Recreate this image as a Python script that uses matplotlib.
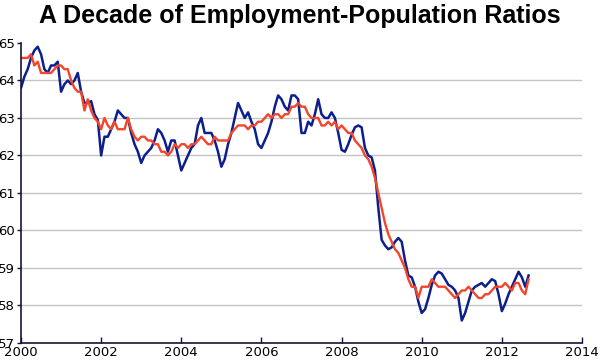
import numpy as np
import matplotlib
matplotlib.use("Agg")
import matplotlib.pyplot as plt

# Employment-population ratio, monthly, Jan 2000 - Sep 2012
# not seasonally adjusted (blue)
nsa = [
    63.8, 64.1, 64.3, 64.6, 64.8, 64.9, 64.7, 64.3, 64.2, 64.4, 64.4, 64.5,  # 2000
    63.7, 63.9, 64.0, 63.9, 64.0, 64.2, 63.7, 63.4, 63.4, 63.45, 63.1, 62.95,  # 2001
    62.0, 62.5, 62.5, 62.7, 62.9, 63.2, 63.1, 63.0, 63.0, 62.6, 62.3, 62.1,  # 2002
    61.8, 62.0, 62.1, 62.2, 62.4, 62.7, 62.6, 62.4, 62.1, 62.4, 62.4, 62.0,  # 2003
    61.6, 61.8, 62.0, 62.2, 62.3, 62.8, 63.0, 62.6, 62.6, 62.6, 62.4, 62.1,  # 2004
    61.7, 61.9, 62.3, 62.6, 63.0, 63.4, 63.2, 63.0, 63.15, 62.9, 62.7, 62.3,  # 2005
    62.2, 62.4, 62.6, 62.9, 63.3, 63.6, 63.5, 63.3, 63.2, 63.6, 63.6, 63.5,  # 2006
    62.6, 62.6, 62.9, 62.8, 63.1, 63.5, 63.1, 63.0, 63.0, 63.15, 63.0, 62.6,  # 2007
    62.15, 62.1, 62.3, 62.55, 62.75, 62.8, 62.75, 62.2, 62.0, 61.95, 61.6, 60.6,  # 2008
    59.75, 59.6, 59.5, 59.55, 59.7, 59.8, 59.7, 59.2, 58.8, 58.75, 58.5, 58.1,  # 2009
    57.8, 57.9, 58.2, 58.55, 58.8, 58.9, 58.85, 58.7, 58.55, 58.5, 58.4, 58.2,  # 2010
    57.6, 57.8, 58.1, 58.4, 58.5, 58.55, 58.6, 58.5, 58.6, 58.7, 58.65, 58.3,  # 2011
    57.85, 58.05, 58.3, 58.5, 58.7, 58.9, 58.75, 58.5, 58.8,  # 2012
]

# seasonally adjusted (red)
sa = [
    64.6, 64.6, 64.6, 64.7, 64.4, 64.5, 64.2, 64.2, 64.2, 64.2, 64.3, 64.4,  # 2000
    64.4, 64.3, 64.3, 64.0, 63.8, 63.7, 63.7, 63.2, 63.5, 63.2, 63.0, 62.9,  # 2001
    62.7, 63.0, 62.8, 62.7, 62.9, 62.7, 62.7, 62.7, 63.0, 62.7, 62.5, 62.4,  # 2002
    62.5, 62.5, 62.4, 62.4, 62.3, 62.3, 62.1, 62.1, 62.0, 62.1, 62.3, 62.2,  # 2003
    62.3, 62.3, 62.2, 62.3, 62.3, 62.4, 62.5, 62.4, 62.3, 62.3, 62.5, 62.4,  # 2004
    62.4, 62.4, 62.4, 62.6, 62.7, 62.8, 62.8, 62.8, 62.7, 62.8, 62.8, 62.9,  # 2005
    62.9, 63.0, 63.1, 63.0, 63.1, 63.1, 63.0, 63.1, 63.1, 63.3, 63.3, 63.4,  # 2006
    63.3, 63.3, 63.1, 63.0, 63.0, 63.0, 62.8, 62.8, 62.9, 62.8, 62.9, 62.7,  # 2007
    62.8, 62.7, 62.6, 62.6, 62.4, 62.3, 62.2, 62.0, 61.9, 61.7, 61.4, 61.0,  # 2008
    60.6, 60.2, 59.9, 59.7, 59.5, 59.4, 59.2, 59.0, 58.7, 58.5, 58.5, 58.2,  # 2009
    58.5, 58.5, 58.5, 58.7, 58.6, 58.5, 58.5, 58.5, 58.4, 58.3, 58.2, 58.3,  # 2010
    58.4, 58.4, 58.5, 58.4, 58.3, 58.2, 58.2, 58.3, 58.3, 58.4, 58.5, 58.5,  # 2011
    58.5, 58.6, 58.5, 58.4, 58.6, 58.6, 58.4, 58.3, 58.7,  # 2012
]

start_year = 2000
x_ticks = [2000, 2002, 2004, 2006, 2008, 2010, 2012, 2014]
y_ticks = [57, 58, 59, 60, 61, 62, 63, 64, 65]

t = start_year + np.arange(len(sa)) / 12.0

fig = plt.figure(figsize=(6, 3.64), dpi=100)
ax = fig.add_axes([0.035, 0.0577, 0.935, 0.8243])

ax.plot(t, nsa, color="#0d1f8c", lw=1.8, solid_joinstyle="round")
ax.plot(t, sa, color="#f2452a", lw=1.7, solid_joinstyle="round")

ax.set_xlim(2000, 2014)
ax.set_ylim(57, 65)
ax.set_xticks(x_ticks)
ax.set_yticks(y_ticks)

ax.grid(axis="y", color="#c4c4c4", lw=1.0)
ax.get_ygridlines()[-1].set_visible(False)
ax.set_axisbelow(True)

for s in ["top", "right"]:
    ax.spines[s].set_visible(False)
for s in ["left", "bottom"]:
    ax.spines[s].set_color("#14143a")
    ax.spines[s].set_linewidth(1.2)

ax.tick_params(axis="y", direction="out", length=3, width=1, color="#14143a",
               labelsize=9.5, pad=1.5, labelcolor="black")
ax.tick_params(axis="x", direction="in", length=4, width=1, color="#14143a",
               labelsize=9.5, pad=2, labelcolor="black")

fig.text(0.5, 0.955, "A Decade of Employment-Population Ratios",
         ha="center", va="center", fontsize=18, fontweight="bold",
         family=["Liberation Sans", "DejaVu Sans"])

fig.savefig("out.png", dpi=100)
